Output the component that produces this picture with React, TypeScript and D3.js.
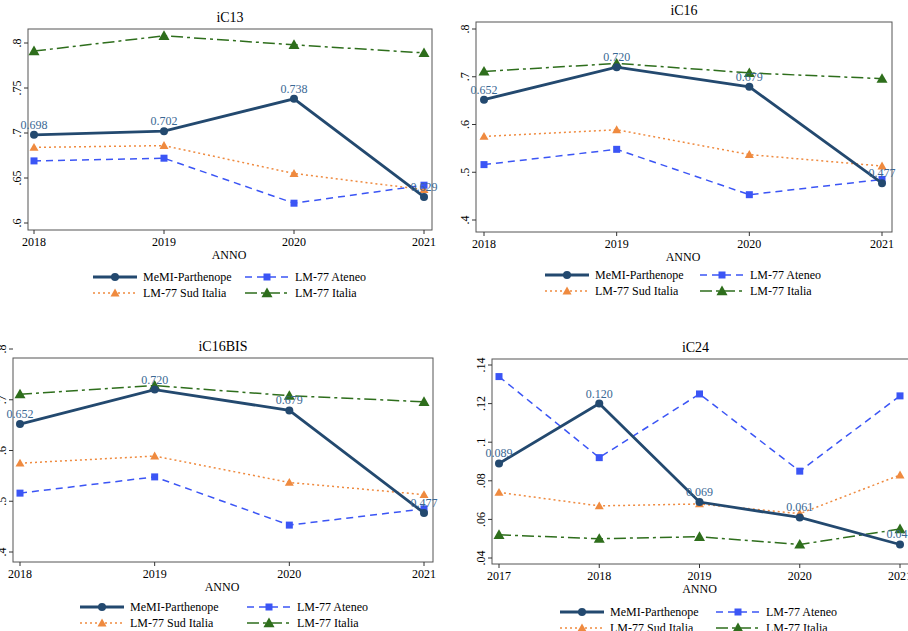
import * as d3 from "d3";

const SERIES = ["MeMI-Parthenope", "LM-77 Ateneo", "LM-77 Sud Italia", "LM-77 Italia"];
const COLORS = ["#23496f", "#3b55f5", "#ef8a3f", "#2e6e1c"];
const DASH = ["", "7 5", "2 3", "12 4 3 4"];

const years4 = [2018, 2019, 2020, 2021];
const years5 = [2017, 2018, 2019, 2020, 2021];

const ic13 = [
  [0.698, 0.702, 0.738, 0.629],
  [0.669, 0.672, 0.622, 0.642],
  [0.684, 0.686, 0.655, 0.637],
  [0.791, 0.808, 0.798, 0.789],
];
const ic16 = [
  [0.652, 0.72, 0.679, 0.477],
  [0.516, 0.548, 0.453, 0.485],
  [0.575, 0.589, 0.537, 0.513],
  [0.711, 0.728, 0.708, 0.696],
];
const ic24 = [
  [0.089, 0.12, 0.069, 0.061, 0.047],
  [0.134, 0.092, 0.125, 0.085, 0.124],
  [0.074, 0.067, 0.068, 0.063, 0.083],
  [0.052, 0.05, 0.051, 0.047, 0.055],
];

const ticks13 = [0.6, 0.65, 0.7, 0.75, 0.8];
const ticks16 = [0.4, 0.5, 0.6, 0.7, 0.8];
const ticks24 = [0.04, 0.06, 0.08, 0.1, 0.12, 0.14];

const fmtTick = (v: number) => d3.format("")(+v.toFixed(2)).replace(/^0/, "");

type Panel = {
  title: string;
  years: number[];
  data: number[][];
  ticks: number[];
  frame: [number, number, number, number];
  xr: [number, number];
  yd: [number, number];
  yr: [number, number];
  legY: number;
  legX: [number, number];
};

const panels: Panel[] = [
  { title: "iC13", years: years4, data: ic13, ticks: ticks13, frame: [28, 29, 432, 230], xr: [34, 424], yd: [0.6, 0.8], yr: [223, 43], legY: 277, legX: [93, 245] },
  { title: "iC16", years: years4, data: ic16, ticks: ticks16, frame: [476, 22, 892, 232], xr: [484, 882], yd: [0.4, 0.8], yr: [220, 29], legY: 275, legX: [545, 700] },
  { title: "iC16BIS", years: years4, data: ic16, ticks: ticks16, frame: [13, 358, 433, 562], xr: [20, 424], yd: [0.4, 0.8], yr: [552, 349], legY: 607, legX: [80, 247] },
  { title: "iC24", years: years5, data: ic24, ticks: ticks24, frame: [492, 359, 915, 564], xr: [499, 900], yd: [0.04, 0.14], yr: [558, 365], legY: 612, legX: [560, 716] },
];

function Marker({ i, x, y }: { i: number; x: number; y: number }) {
  const c = COLORS[i];
  if (i === 0) return <circle cx={x} cy={y} r={4} fill={c} />;
  if (i === 1) return <rect x={x - 3.5} y={y - 3.5} width={7} height={7} fill={c} />;
  const s = i === 3 ? 5.5 : 4.5;
  return <path d={`M${x},${y - s}L${x + s},${y + s * 0.75}L${x - s},${y + s * 0.75}Z`} fill={c} />;
}

function PanelView({ p }: { p: Panel }) {
  const [l, t, r, b] = p.frame;
  const x = d3.scalePoint<number>().domain(p.years).range(p.xr);
  const y = d3.scaleLinear().domain(p.yd).range(p.yr);
  const line = d3.line<number>().x((_, k) => x(p.years[k])!).y((v) => y(v));
  const order = [3, 2, 1, 0];
  return (
    <g>
      <text x={(l + r) / 2 - (p.title === "iC24" ? 8 : 0)} y={t - 7} textAnchor="middle" fontSize={14}>{p.title}</text>
      <rect x={l} y={t} width={r - l} height={b - t} fill="white" stroke="#555" strokeWidth={1} />
      {p.ticks.map((v) => (
        <g key={v}>
          <line x1={l - 4} x2={l} y1={y(v)} y2={y(v)} stroke="#333" />
          <text transform={`translate(${l - 7},${y(v)}) rotate(-90)`} textAnchor="middle" fontSize={12}>{fmtTick(v)}</text>
        </g>
      ))}
      {p.years.map((yr) => (
        <g key={yr}>
          <line x1={x(yr)} x2={x(yr)} y1={b} y2={b + 4} stroke="#333" />
          <text x={x(yr)} y={b + 16} textAnchor="middle" fontSize={12}>{yr}</text>
        </g>
      ))}
      <text x={(p.xr[0] + p.xr[1]) / 2} y={b + 29} textAnchor="middle" fontSize={12}>ANNO</text>
      {order.map((i) => (
        <g key={i}>
          <path d={line(p.data[i])!} fill="none" stroke={COLORS[i]} strokeWidth={i === 0 ? 2.8 : 1.5} strokeDasharray={DASH[i]} />
          {p.data[i].map((v, k) => <Marker key={k} i={i} x={x(p.years[k])!} y={y(v)} />)}
        </g>
      ))}
      {p.data[0].map((v, k) => (
        <text key={k} x={x(p.years[k])!} y={y(v) - 6} textAnchor="middle" fontSize={12} fill="#3a6894">{v.toFixed(3)}</text>
      ))}
      {SERIES.map((s, i) => {
        const lx = p.legX[i % 2];
        const ly = p.legY + Math.floor(i / 2) * 16;
        return (
          <g key={s}>
            <line x1={lx} x2={lx + 44} y1={ly} y2={ly} stroke={COLORS[i]} strokeWidth={i === 0 ? 2.8 : 1.5} strokeDasharray={DASH[i]} />
            <Marker i={i} x={lx + 22} y={ly} />
            <text x={lx + 50} y={ly + 4} fontSize={12}>{s}</text>
          </g>
        );
      })}
    </g>
  );
}

export default function App() {
  return (
    <svg width={908} height={631} style={{ position: "absolute", left: 0, top: 0, fontFamily: "'Liberation Serif', 'DejaVu Serif', serif", background: "white" }}>
      <rect width={908} height={631} fill="white" />
      {panels.map((p) => <PanelView key={p.title} p={p} />)}
    </svg>
  );
}
